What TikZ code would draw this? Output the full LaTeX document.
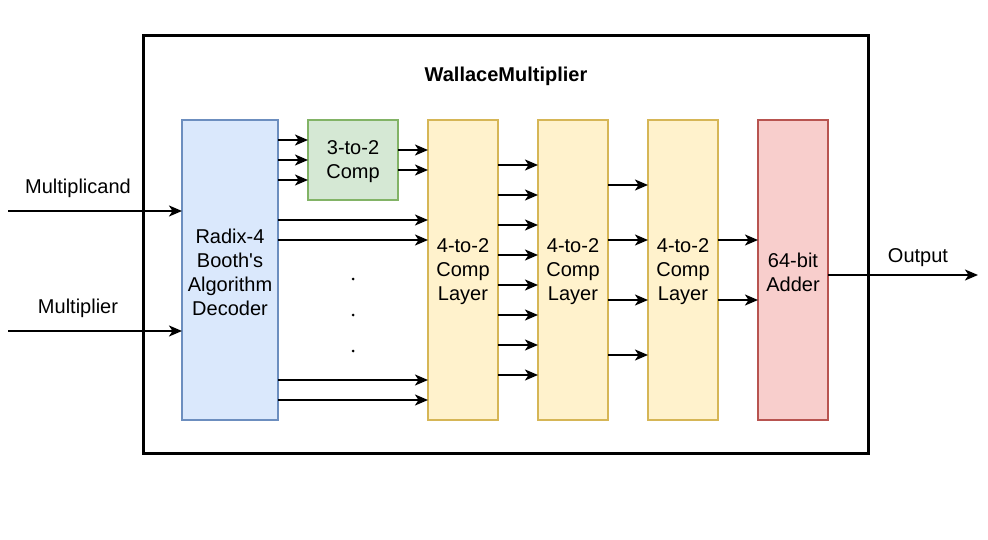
\documentclass[tikz,border=0pt]{standalone}
\usepackage{fontspec}
\setmainfont{Liberation Sans}
\newfontfamily\plainfont{Liberation Sans}
\usetikzlibrary{arrows.meta}
\definecolor{bluef}{HTML}{DAE8FC}\definecolor{blued}{HTML}{6C8EBF}
\definecolor{greenf}{HTML}{D5E8D4}\definecolor{greend}{HTML}{82B366}
\definecolor{yellowf}{HTML}{FFF2CC}\definecolor{yellowd}{HTML}{D6B656}
\definecolor{redf}{HTML}{F8CECC}\definecolor{redd}{HTML}{B85450}
\begin{document}
\begin{tikzpicture}[x=1pt,y=-1pt,
  txt/.style={font=\fontsize{20}{24}\selectfont, align=center, inner sep=0pt},
  box/.style={draw, line width=1.5pt, outer sep=0pt},
  arr/.style={line width=2pt, -{Stealth[length=13pt,width=11pt,inset=3.5pt]}},
  dotmark/.style={circle, fill=black, inner sep=0pt, minimum size=3pt}]
\useasboundingbox (0,0) rectangle (988,540);
\fill[white] (0,0) rectangle (988,540);
\node[draw, line width=3pt, minimum width=725, minimum height=417, outer sep=0pt] (outer) at (505.5,244.5) {};
\node[txt, font=\fontsize{20}{24}\selectfont\bfseries] (title) at (506,76) {WallaceMultiplier};
\node[box, fill=bluef, draw=blued, minimum width=96, minimum height=300] (dec) at (230,270) {};
\node[box, fill=greenf, draw=greend, minimum width=90, minimum height=80] (c3) at (353,160) {};
\node[box, fill=yellowf, draw=yellowd, minimum width=70, minimum height=300] (l1) at (463,270) {};
\node[box, fill=yellowf, draw=yellowd, minimum width=70, minimum height=300] (l2) at (573,270) {};
\node[box, fill=yellowf, draw=yellowd, minimum width=70, minimum height=300] (l3) at (683,270) {};
\node[box, fill=redf, draw=redd, minimum width=70, minimum height=300] (add) at (793,270) {};
\node[txt] (tdec) at ([yshift=-2pt]dec.center) {Radix-4\\Booth{\plainfont'}s\\Algorithm\\Decoder};
\node[txt] (tc3) at ([yshift=-2pt]c3.center) {3-to-2\\Comp};
\node[txt] (tl1) at ([yshift=-2pt]l1.center) {4-to-2\\Comp\\Layer};
\node[txt] (tl2) at ([yshift=-2pt]l2.center) {4-to-2\\Comp\\Layer};
\node[txt] (tl3) at ([yshift=-2pt]l3.center) {4-to-2\\Comp\\Layer};
\node[txt] (tadd) at ([yshift=-2pt]add.center) {64-bit\\Adder};
% inputs
\coordinate (inA) at (8,211);
\coordinate (inB) at (8,331);
\node[txt] (lA) at (78,188) {Multiplicand};
\node[txt] (lB) at (78,308) {Multiplier};
\draw[arr] (inA) -- (dec.west |- inA);
\draw[arr] (inB) -- (dec.west |- inB);
% decoder to 3-to-2
\foreach \y in {140,160,180} \draw[arr] (dec.east |- 0,\y) -- (c3.west |- 0,\y);
% 3-to-2 to layer 1
\foreach \y in {150,170} \draw[arr] (c3.east |- 0,\y) -- (l1.west |- 0,\y);
% decoder to layer 1
\foreach \y in {220,240,380,400} \draw[arr] (dec.east |- 0,\y) -- (l1.west |- 0,\y);
\node[dotmark] (d1) at (353,279) {};
\node[dotmark] (d2) at (353,315) {};
\node[dotmark] (d3) at (353,351) {};
% layer1 to layer2
\foreach \y in {165,195,225,255,285,315,345,375} \draw[arr] (l1.east |- 0,\y) -- (l2.west |- 0,\y);
% layer2 to layer3
\foreach \y in {185,240,300,355} \draw[arr] (l2.east |- 0,\y) -- (l3.west |- 0,\y);
% layer3 to adder
\foreach \y in {240,300} \draw[arr] (l3.east |- 0,\y) -- (add.west |- 0,\y);
% output
\coordinate (out) at (978,275);
\draw[arr] (add.east |- out) -- (out);
\node[txt] (lO) at (918,258) {Output};
\end{tikzpicture}
\end{document}
